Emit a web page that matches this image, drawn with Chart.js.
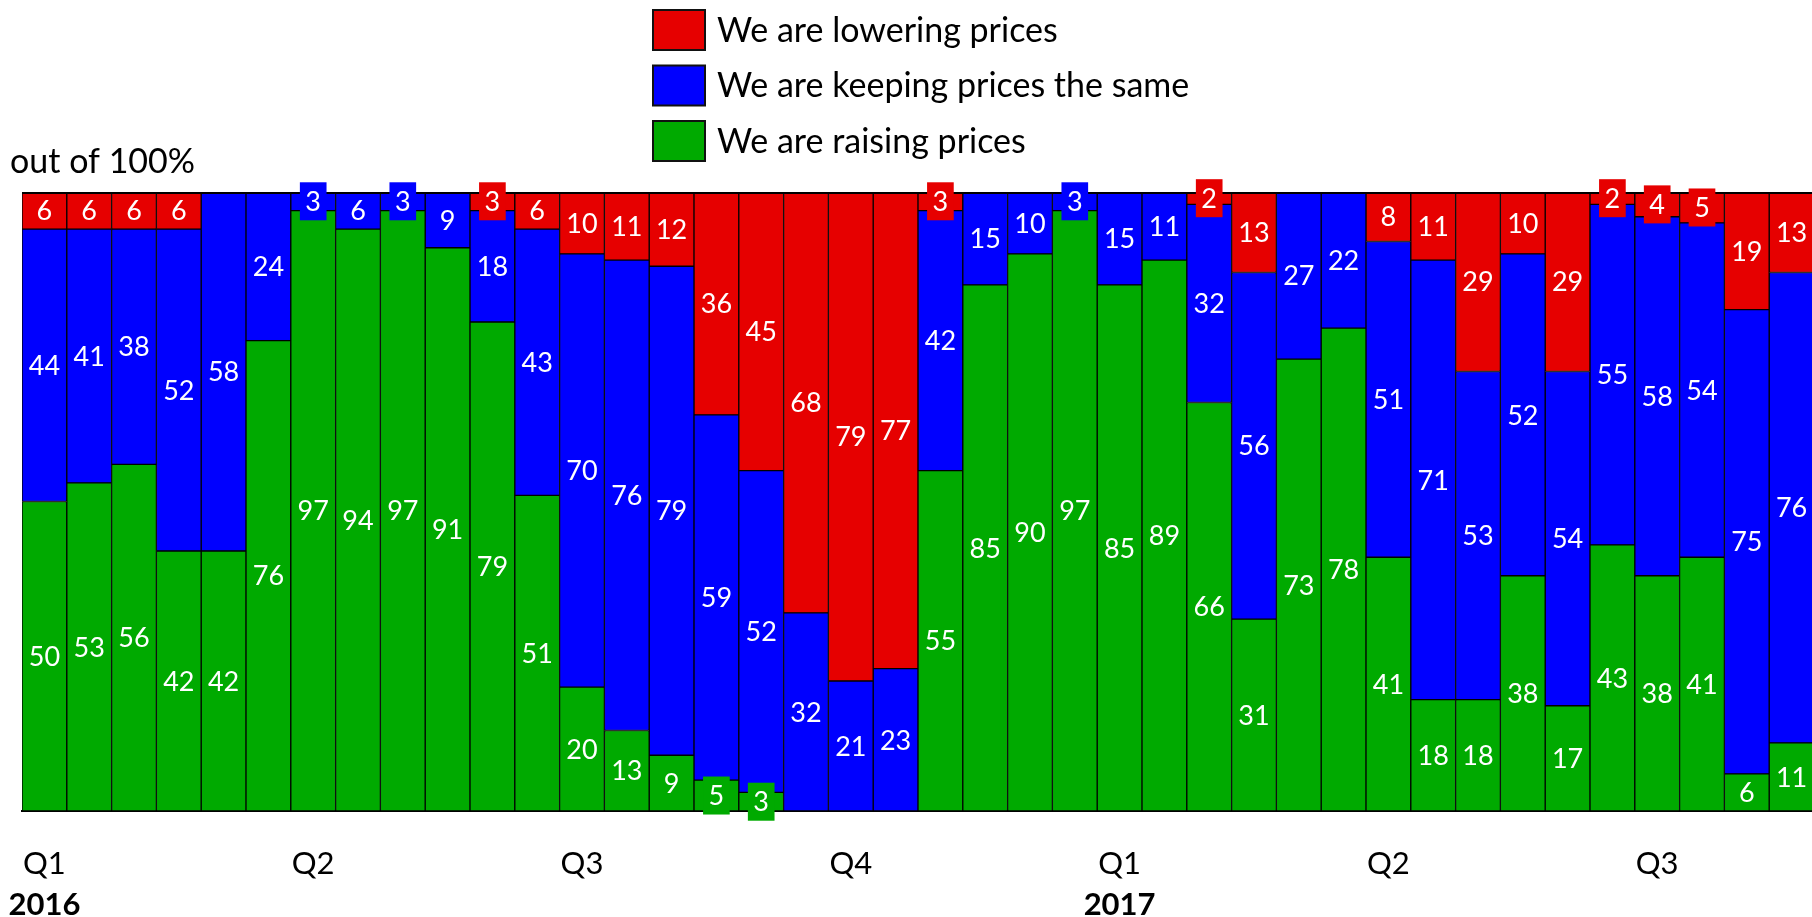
<!DOCTYPE html>
<html>
<head>
<meta charset="utf-8">
<script src="https://cdn.jsdelivr.net/npm/chart.js@4.4.1/dist/chart.umd.min.js"></script>
<style>
  html, body { margin: 0; padding: 0; background: #fff; overflow: hidden; }
  canvas { display: block; }
</style>
</head>
<body>
<canvas id="priceChart" width="1816" height="917"></canvas>
<script>
// 40 survey waves, 6 per quarter
const quarterLabels = [
  "Q1", "", "", "", "", "",
  "Q2", "", "", "", "", "",
  "Q3", "", "", "", "", "",
  "Q4", "", "", "", "", "",
  "Q1", "", "", "", "", "",
  "Q2", "", "", "", "", "",
  "Q3", "", "", ""
];
const yearLabels = [
  "2016", "", "", "", "", "", "", "", "", "", "", "", "", "", "", "", "", "", "", "", "", "", "", "",
  "2017", "", "", "", "", "", "", "", "", "", "", "", "", "", "", ""
];

const raising  = [50, 53, 56, 42, 42, 76, 97, 94, 97, 91, 79, 51, 20, 13, 9, 5, 3, 0, 0, 0,
                  55, 85, 90, 97, 85, 89, 66, 31, 73, 78, 41, 18, 18, 38, 17, 43, 38, 41, 6, 11];
const keeping  = [44, 41, 38, 52, 58, 24, 3, 6, 3, 9, 18, 43, 70, 76, 79, 59, 52, 32, 21, 23,
                  42, 15, 10, 3, 15, 11, 32, 56, 27, 22, 51, 71, 53, 52, 54, 55, 58, 54, 75, 76];
const lowering = [6, 6, 6, 6, 0, 0, 0, 0, 0, 0, 3, 6, 10, 11, 12, 36, 45, 68, 79, 77,
                  3, 0, 0, 0, 0, 0, 2, 13, 0, 0, 8, 11, 29, 10, 29, 2, 4, 5, 19, 13];

const FONT = "Lato";

// numbers inside the segments; small ones get a box in the segment colour
const valueLabels = {
  id: "valueLabels",
  afterDatasetsDraw(chart) {
    const ctx = chart.ctx;
    ctx.save();
    // top edge of the stack is a bit heavier in the original
    ctx.strokeStyle = "#000";
    ctx.lineWidth = 2;
    ctx.beginPath();
    ctx.moveTo(chart.chartArea.left, chart.chartArea.top + 1);
    ctx.lineTo(chart.chartArea.right, chart.chartArea.top + 1);
    ctx.stroke();

    ctx.font = "27px " + FONT;
    ctx.textAlign = "center";
    ctx.textBaseline = "middle";
    chart.data.datasets.forEach((ds, i) => {
      const meta = chart.getDatasetMeta(i);
      meta.data.forEach((bar, j) => {
        const v = ds.data[j];
        if (!v) return;
        const cy = (bar.y + bar.base) / 2;
        const txt = String(v);
        if (v <= 5) {
          const w = ctx.measureText(txt).width + 11;
          ctx.fillStyle = ds.backgroundColor;
          ctx.fillRect(bar.x - w / 2, cy - 19, w, 38);
        }
        ctx.fillStyle = "#fff";
        ctx.fillText(txt, bar.x, cy + 1);
      });
    });
    ctx.restore();
  }
};

// stacked legend above the bars + the "out of 100%" note
const sideLegend = {
  id: "sideLegend",
  afterDraw(chart) {
    const ctx = chart.ctx;
    const items = chart.data.datasets.slice().reverse();
    ctx.save();
    ctx.font = "34px " + FONT;
    ctx.textBaseline = "middle";
    items.forEach((ds, k) => {
      const cy = 30 + k * 55.5;
      ctx.fillStyle = ds.backgroundColor;
      ctx.fillRect(653, cy - 20, 52, 40);
      ctx.strokeStyle = "#111";
      ctx.lineWidth = 2;
      ctx.strokeRect(653, cy - 20, 52, 40);
      ctx.fillStyle = "#000";
      ctx.fillText(ds.label, 717, cy + 1);
    });
    ctx.textBaseline = "alphabetic";
    ctx.fillText("out of 100%", 10, 173);
    ctx.restore();
  }
};

// keep the bars flush with the padding, ignore label overhang
function fixAxis(height) {
  return scale => {
    scale.height = height;
    scale.paddingLeft = 0;
    scale.paddingRight = 0;
  };
}

const ctx = document.getElementById("priceChart");

new Chart(ctx, {
  type: "bar",
  data: {
    labels: quarterLabels,
    datasets: [
      { label: "We are raising prices", data: raising, backgroundColor: "#00AA00" },
      { label: "We are keeping prices the same", data: keeping, backgroundColor: "#0000FF" },
      { label: "We are lowering prices", data: lowering, backgroundColor: "#E60000" }
    ].map(d => Object.assign(d, {
      borderColor: "#000",
      borderWidth: 1,
      borderSkipped: false,
      categoryPercentage: 1,
      barPercentage: 1
    }))
  },
  options: {
    responsive: false,
    animation: false,
    layout: { padding: { top: 192, left: 22, right: 2, bottom: 0 } },
    plugins: {
      legend: { display: false },
      tooltip: { enabled: false }
    },
    scales: {
      x: {
        stacked: true,
        grid: { display: false, drawTicks: false },
        border: { display: true, color: "#000", width: 2 },
        ticks: {
          autoSkip: false, maxRotation: 0, padding: 34,
          color: "#000", font: { family: FONT, size: 31 }
        },
        afterFit: fixAxis(70)
      },
      x2: {
        type: "category",
        position: "bottom",
        labels: yearLabels,
        grid: { display: false, drawTicks: false },
        border: { display: false },
        ticks: {
          autoSkip: false, maxRotation: 0, padding: 5,
          color: "#000", font: { family: FONT, size: 31, weight: "bold" }
        },
        afterFit: fixAxis(36)
      },
      y: {
        stacked: true,
        display: false,
        min: 0,
        max: 100
      }
    }
  },
  plugins: [valueLabels, sideLegend]
});
</script>
</body>
</html>
